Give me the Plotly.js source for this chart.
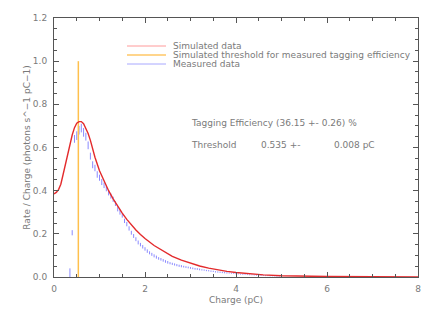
<!DOCTYPE html>
<html><head><meta charset="utf-8">
<script src="https://cdn.plot.ly/plotly-3.0.1.min.js"></script>
<style>html,body{margin:0;padding:0;background:#fff}#chart{width:436px;height:312px}</style>
</head><body><div id="chart"></div>
<script>
// Simulated data (red curve)
const simCharge = [0,0.05,0.1,0.15,0.2,0.25,0.3,0.35,0.4,0.45,0.5,0.55,0.6,0.65,0.7,0.75,0.8,0.9,1.0,1.1,1.2,1.3,1.4,1.5,1.6,1.7,1.8,1.9,2.0,2.2,2.4,2.6,2.8,3.0,3.2,3.4,3.6,3.8,4.0,4.3,4.6,5.0,5.5,6.0,7.0,8.0];
const simRate   = [0.385,0.392,0.405,0.43,0.475,0.525,0.575,0.615,0.658,0.692,0.713,0.72,0.72,0.71,0.69,0.665,0.633,0.555,0.492,0.442,0.40,0.362,0.327,0.296,0.267,0.241,0.218,0.197,0.178,0.146,0.119,0.096,0.078,0.063,0.051,0.041,0.033,0.026,0.021,0.015,0.01,0.006,0.003,0.002,0.001,0.0];

// Measured data (blue error bars)
const measCharge = [0.35,0.40,0.45,0.50,0.55,0.60,0.65,0.70,0.75,0.80,0.85,0.90,0.95,1.00,1.05,1.10,1.15,1.20,1.25,1.30,1.35,1.40,1.45,1.50,1.55,1.60,1.65,1.70,1.75,1.80,1.85,1.90,1.95,2.00,2.05,2.10,2.15,2.20,2.25,2.30,2.35,2.40,2.45,2.50,2.55,2.60,2.65,2.70,2.75,2.80,2.85,2.90,2.95,3.00,3.05,3.10,3.15,3.20,3.25,3.30,3.35,3.40,3.45,3.50,3.55,3.60,3.65,3.70,3.75,3.80,3.85,3.90,3.95,4.00,4.05,4.10,4.15,4.20,4.25,4.30,4.35,4.40,4.45,4.50,4.55,4.60,4.65,4.70,4.75,4.80,4.85,4.90,4.95,5.00];
const measRate   = [0.02,0.205,0.64,0.655,0.68,0.69,0.67,0.65,0.61,0.56,0.52,0.505,0.475,0.46,0.44,0.425,0.41,0.39,0.375,0.36,0.34,0.315,0.30,0.285,0.26,0.245,0.225,0.205,0.19,0.175,0.16,0.15,0.14,0.13,0.12,0.112,0.105,0.098,0.092,0.086,0.082,0.077,0.072,0.068,0.064,0.061,0.058,0.055,0.052,0.05,0.048,0.046,0.044,0.042,0.04,0.038,0.037,0.035,0.033,0.032,0.03,0.029,0.027,0.026,0.024,0.023,0.022,0.021,0.02,0.019,0.018,0.017,0.016,0.015,0.014,0.013,0.012,0.012,0.011,0.01,0.01,0.009,0.008,0.008,0.007,0.007,0.006,0.006,0.005,0.005,0.005,0.004,0.004,0.004];
const measErr    = [0.02,0.012,0.018,0.02,0.02,0.02,0.02,0.018,0.018,0.016,0.016,0.015,0.015,0.014,0.014,0.013,0.013,0.012,0.012,0.012,0.011,0.011,0.011,0.01,0.01,0.01,0.01,0.009,0.009,0.009,0.009,0.008,0.008,0.008,0.008,0.007,0.007,0.007,0.007,0.006,0.006,0.006,0.006,0.006,0.005,0.005,0.005,0.005,0.005,0.005,0.004,0.004,0.004,0.004,0.004,0.004,0.004,0.004,0.003,0.003,0.003,0.003,0.003,0.003,0.003,0.003,0.003,0.003,0.003,0.003,0.002,0.002,0.002,0.002,0.002,0.002,0.002,0.002,0.002,0.002,0.002,0.002,0.002,0.002,0.002,0.002,0.002,0.002,0.002,0.002,0.002,0.002,0.002,0.002];

// Threshold
const thresholdCharge = [0.535, 0.535];
const thresholdRate = [0, 1.0];

const legendLabels = ["Simulated data","Simulated threshold for measured tagging efficiency","Measured data"];

const txtColor = '#7a7a7a';
const fnt = {family:'DejaVu Sans', size:9, color:txtColor};

const traces = [
  {x: measCharge, y: measRate, type:'scatter', mode:'markers',
   marker:{size:1, color:'rgba(0,0,0,0)'},
   error_y:{type:'data', array: measErr, visible:true, width:0, thickness:1, color:'#8a8aff'},
   showlegend:false, hoverinfo:'skip'},
  {x: thresholdCharge, y: thresholdRate, type:'scatter', mode:'lines',
   line:{color:'#ffc04d', width:1.5}, showlegend:false},
  {x: simCharge, y: simRate, type:'scatter', mode:'lines',
   line:{color:'#e32a2c', width:1.4}, showlegend:false}
];

const px = v => (v-54)/364;
const py = v => (277-v)/259;
const legColors = ['#ff9a9a','#ffd58c','#a8a8ff'];
const legRows = [46,55,64];
const shapes = legRows.map((r,i)=>({type:'line', xref:'paper', yref:'paper',
  x0:px(127), x1:px(166), y0:py(r), y1:py(r), line:{color:legColors[i], width: i===1?2:1}}));
const annotations = legRows.map((r,i)=>({xref:'paper', yref:'paper', x:px(171), y:py(r),
  xanchor:'left', yanchor:'middle', text: legendLabels[i], showarrow:false, font:fnt}));
annotations.push({xref:'paper', yref:'paper', x:px(189), y:py(123), xanchor:'left', yanchor:'middle',
  text:'Tagging Efficiency (36.15 +- 0.26) %', showarrow:false, font:fnt});
annotations.push({xref:'paper', yref:'paper', x:px(189), y:py(145), xanchor:'left', yanchor:'middle',
  text:'Threshold', showarrow:false, font:fnt});
annotations.push({xref:'paper', yref:'paper', x:px(259), y:py(145), xanchor:'left', yanchor:'middle',
  text:'0.535 +-', showarrow:false, font:fnt});
annotations.push({xref:'paper', yref:'paper', x:px(332), y:py(145), xanchor:'left', yanchor:'middle',
  text:'0.008 pC', showarrow:false, font:fnt});

const axCommon = {showgrid:false, zeroline:false, showline:true, linecolor:'#555', linewidth:1,
  mirror:'ticks', ticks:'inside', ticklen:5, tickcolor:'#555', tickwidth:1,
  tickfont:fnt};

const layout = {
  width:436, height:312,
  margin:{l:54, r:18, t:18, b:35},
  paper_bgcolor:'#fff', plot_bgcolor:'#fff',
  showlegend:false,
  xaxis: Object.assign({}, axCommon, {range:[0,8], dtick:2, tick0:0, ticklabelstandoff:3,
    minor:{dtick:0.5, ticks:'inside', ticklen:3, tickcolor:'#555'},
    title:{text:'Charge (pC)', font:fnt, standoff:3}}),
  yaxis: Object.assign({}, axCommon, {range:[0,1.2], dtick:0.2, tick0:0, tickformat:'.1f', ticklabelstandoff:4,
    minor:{dtick:0.05, ticks:'inside', ticklen:3, tickcolor:'#555'},
    title:{text:'Rate / Charge (photons s^\u22121 pC\u22121)', font:fnt, standoff:0}}),
  shapes: shapes,
  annotations: annotations
};

Plotly.newPlot('chart', traces, layout, {displayModeBar:false, staticPlot:true});
</script></body></html>
